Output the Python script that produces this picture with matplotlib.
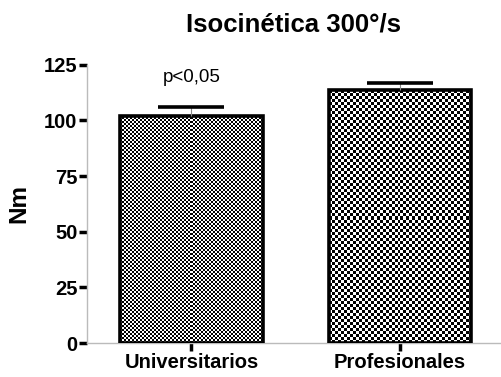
import numpy as np
import matplotlib
matplotlib.use("Agg")
import matplotlib.pyplot as plt

categories = ["Universitarios", "Profesionales"]
means = [102.2, 113.5]
errors = [3.8, 3.5]
title = "Isocinética 300°/s"
ylabel = "Nm"
yticks = [0, 25, 50, 75, 100, 125]
annotation = "p<0,05"
annotation_y = 119.5

plt.rcParams['font.family'] = ['Liberation Sans', 'DejaVu Sans']

fig = plt.figure(figsize=(5.01, 3.77), dpi=100)
ax = fig.add_axes([0.174, 0.090, 0.824, 0.738])
x = np.arange(len(categories))
ax.set_xlim(-0.5, 1.48)
ax.set_ylim(0, 125)

bars = ax.bar(x, means, width=0.685, facecolor='none', edgecolor='black',
              linewidth=2.6, zorder=3)

# checkerboard fills clipped to bars
cell_px = [2, 3]
fig.canvas.draw()
for b, cp in zip(bars, cell_px):
    x0, y0 = b.get_x(), b.get_y()
    x1, y1 = x0 + b.get_width(), y0 + b.get_height()
    (px0, py0), (px1, py1) = ax.transData.transform([(x0, y0), (x1, y1)])
    nx = max(1, int(round((px1 - px0) / cp)))
    ny = max(1, int(round((py1 - py0) / cp)))
    ii, jj = np.meshgrid(np.arange(nx), np.arange(ny))
    board = ((ii + jj) % 2).astype(float)
    im = ax.imshow(board, cmap='gray', vmin=0, vmax=1, extent=[x0, x1, y0, y1],
                   interpolation='nearest', aspect='auto', zorder=2)
    im.set_clip_path(b)

# error bars (upper only)
eb = ax.errorbar(x, means, yerr=[[0] * len(errors), errors], fmt='none',
                 ecolor='#888888', elinewidth=0.8, capsize=24, capthick=2.6,
                 zorder=4, clip_on=False)
caps = eb[1]
for c in caps:
    c.set_color('black')
    c.set_markeredgecolor('black')
    c.set_markerfacecolor('black')
    c.set_clip_on(False)
if len(caps) == 2:
    caps[0].set_visible(False)

ax.text(x[0], annotation_y, annotation, ha='center', va='center', fontsize=13.5)

ax.set_title(title, fontsize=18.5, fontweight='bold', pad=24)
ax.set_ylabel(ylabel, fontsize=17.5, fontweight='bold', labelpad=10)
ax.set_xticks(x)
ax.set_xticklabels(categories, fontsize=14.5, fontweight='bold')
ax.set_yticks(yticks)
ax.set_yticklabels([str(t) for t in yticks], fontsize=14.5, fontweight='bold')

for s in ['top', 'right']:
    ax.spines[s].set_visible(False)
for s in ['left', 'bottom']:
    ax.spines[s].set_color('#bbbbbb')
    ax.spines[s].set_linewidth(1.0)
ax.tick_params(axis='both', direction='out', length=6, width=2.5, color='black', pad=1)
ax.patch.set_visible(False)

fig.savefig("out.png", dpi=100)
